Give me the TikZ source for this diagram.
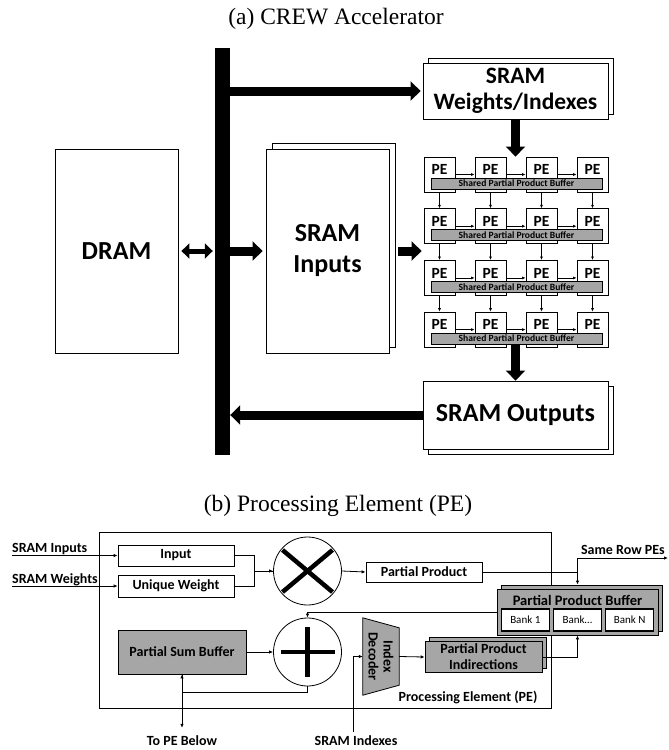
\documentclass[tikz,border=0pt]{standalone}
\usepackage{fontspec}
\setmainfont{Liberation Serif}
\newfontfamily\calibri{Carlito}
\usepackage{xcolor}
\usetikzlibrary{positioning, arrows.meta, shadows}

\definecolor{bufgray}{RGB}{166,166,166}

\tikzset{
  box/.style={draw, line width=0.8pt, fill=white, inner sep=0pt},
  graybox/.style={box, fill=bufgray},
  stack/.style n args={3}{general shadow={draw, line width=0.8pt, fill=#1, shadow xshift=#2, shadow yshift=#3}},
  ttl/.style={font=\fontsize{23.5}{26}\selectfont},
  big/.style={font=\calibri\bfseries\fontsize{26}{27}\selectfont},
  lbl/.style={font=\calibri\bfseries\fontsize{14}{16}\selectfont, inner sep=0pt},
  pelbl/.style={font=\calibri\bfseries\fontsize{15.5}{16}\selectfont, inner sep=0pt},
  sbuf/.style={graybox, minimum width=171pt, minimum height=11pt, font=\calibri\bfseries\fontsize{9.6}{10}\selectfont},
  bank/.style={draw, line width=1.2pt, fill=white, minimum width=48pt, minimum height=22pt, inner sep=0pt, font=\calibri\fontsize{11}{12}\selectfont},
  bigarrow/.style={line width=9pt, -{Triangle[length=10pt, width=19pt]}},
  dblarrow/.style={line width=5pt, {Triangle[length=8pt, width=15pt]}-{Triangle[length=8pt, width=15pt]}},
  wire/.style={line width=0.8pt, -{Latex[length=4pt, width=3.5pt]}},
  sign/.style={line width=4.5pt}
}

\begin{document}
\begin{tikzpicture}[x=1pt, y=-1pt]
\useasboundingbox (0,0) rectangle (669,750);

% Titles
\node[ttl] (ttla) at (336,19) {(a) CREW Accelerator};
\node[ttl] (ttlb) at (338,506) {(b) Processing Element (PE)};

% Memories and bus
\node[fill=black, minimum width=15pt, minimum height=407pt, inner sep=0pt] (bus) at (222.5,251.5) {};
\node[box, big, minimum width=123pt, minimum height=204pt] (dram) at (116.5,251) {DRAM};
\node[box, big, stack={white}{6pt}{6pt}, minimum width=123pt, minimum height=204pt, align=center, font=\calibri\bfseries\fontsize{26}{31}\selectfont] (inp) at (327.5,251) {SRAM\\Inputs};
\node[box, big, stack={white}{5pt}{5pt}, minimum width=185pt, minimum height=56pt, align=center, font=\calibri\bfseries\fontsize{23.5}{26}\selectfont] (wts) at (515.5,91) {SRAM\\Weights/Indexes};
\node[box, big, stack={white}{5pt}{-5pt}, minimum width=185pt, minimum height=68pt] (outs) at (515.5,415) {SRAM Outputs};

% PE array
\foreach \row in {1,...,4}{
  \foreach \col in {1,...,4}{
    \node[box, minimum width=31pt, minimum height=35pt] (pe\row\col) at ({439.5+51*(\col-1)},{174.5+51.7*(\row-1)}) {};
    \node[pelbl, below=8pt of pe\row\col.north] (pl\row\col) {PE};
  }
  \foreach \col [evaluate=\col as \nxt using int(\col+1)] in {1,2,3}
    \draw[wire, -{Latex[length=3.5pt, width=3pt]}] (pe\row\col.east) -- (pe\row\nxt.west);
  \node[sbuf] (buf\row) at (516.5,{183.5+51.7*(\row-1)}) {Shared Partial Product Buffer};
}
\foreach \row [evaluate=\row as \nxt using int(\row+1)] in {1,2,3}
  \foreach \col in {1,...,4}
    \draw[wire, -{Latex[length=3.5pt, width=3pt]}] (pe\row\col.south) -- (pe\nxt\col.north);

% Data movement
\draw[dblarrow, shorten <=3pt, shorten >=2pt] (dram.east) -- (dram.east -| bus.west);
\draw[bigarrow, shorten >=2pt] (bus.east |- wts.west) -- (wts.west);
\draw[bigarrow, shorten >=3pt] (bus.east |- inp.west) -- (inp.west);
\draw[bigarrow, shorten <=9pt, shorten >=2pt] (inp.east) -- (inp.east -| pe11.west);
\draw[bigarrow] (wts.south) -- (wts.south |- pe11.north);
\draw[bigarrow] (buf4.south -| outs.north) -- (outs.north);
\draw[bigarrow] (outs.west) -- (outs.west -| bus.east);

% Processing element
\node[draw, line width=0.8pt, minimum width=452pt, minimum height=176pt] (pebox) at (325,620) {};
\node[lbl] (pename) at (468,697) {Processing Element (PE)};

\node[box, lbl, minimum width=116pt, minimum height=21pt] (inbox) at (176,555.5) {Input};
\node[box, lbl, minimum width=116pt, minimum height=22pt] (uw) at (176,586) {Unique Weight};
\node[lbl, anchor=base west] (lblin) at (12,552.5) {SRAM Inputs};
\node[lbl, anchor=base west] (lblw) at (12,583.5) {SRAM Weights};
\draw[wire] (lblin.south west |- inbox.west) -- (inbox.west);
\draw[wire] (lblw.south west |- uw.west) -- (uw.west);

\node[draw, circle, line width=0.8pt, minimum size=68pt, inner sep=0pt] (mul) at (307.5,571) {};
\draw[sign] ([shift={(-25,-21)}]mul.center) -- ([shift={(25,21)}]mul.center);
\draw[sign] ([shift={(-25,21)}]mul.center) -- ([shift={(25,-21)}]mul.center);
\draw[wire] (inbox.east) -- ++(20,0) |- (mul.west);
\draw[line width=0.8pt] (uw.east) -- ++(20,0) |- (mul.west);

\node[box, lbl, minimum width=116pt, minimum height=20pt] (pp) at (424,572) {Partial Product};
\draw[wire] (mul.east) -- (pp.west);

\node[draw, circle, line width=0.8pt, minimum size=68pt, inner sep=0pt] (add) at (307.5,652) {};
\draw[sign] ([shift={(-27,0)}]add.center) -- ([shift={(27,0)}]add.center);
\draw[sign] ([shift={(0,-25)}]add.center) -- ([shift={(0,25)}]add.center);

\node[graybox, lbl, minimum width=128pt, minimum height=44pt] (psb) at (182,652) {Partial Sum Buffer};
\draw[wire] (psb.east) -- (add.west);

\node[lbl] (belowlbl) at (182,741) {To PE Below};
\draw[line width=0.8pt] (add.south) -- ++(0,6) -| (psb.south);
\draw[wire, {Latex[length=4pt, width=3.5pt]}-{Latex[length=4pt, width=3.5pt]}, shorten >=8pt] (psb.south) -- (belowlbl.north);

% Index decoder and indirections
\node[minimum width=36pt, minimum height=77pt, inner sep=0pt] (dec) at (381,656.5) {};
\filldraw[fill=bufgray, line width=0.8pt] (dec.north west) -- ([yshift=-10pt]dec.north east) -- ([yshift=10pt]dec.south east) -- (dec.south west) -- cycle;
\node[lbl, rotate=-90, align=center, font=\calibri\bfseries\fontsize{14}{15}\selectfont] (dect) at (dec.center) {Index\\Decoder};

\node[lbl] (idxlbl) at (356,741) {SRAM Indexes};
\draw[wire, shorten <=4pt] ([xshift=-3pt]idxlbl.north) |- (dec.west);

\node[graybox, lbl, stack={bufgray}{4pt}{4pt}, minimum width=117pt, minimum height=31pt, align=center, font=\calibri\bfseries\fontsize{14}{16}\selectfont] (ppi) at (483.5,657) {Partial Product\\Indirections};
\draw[wire] (dec.east) -- (ppi.west);

% Partial product buffer
\node[graybox, stack={bufgray}{4pt}{4pt}, minimum width=161pt, minimum height=46pt] (ppb) at (577.5,612) {};
\node[lbl, font=\calibri\bfseries\fontsize{14.5}{16}\selectfont, below=6pt of ppb.north] (ppbt) {Partial Product Buffer};
\node[bank] (bank2) at (577.5,620) {Bank…};
\node[bank, left=3pt of bank2] (bank1) {Bank 1};
\node[bank, right=3pt of bank2] (bankn) {Bank N};

\draw[wire, shorten >=4pt] (pp.east) -| (ppb.north);
\draw[wire] (pp.east -| ppb.north) |- (668,558);
\node[lbl, anchor=base east] (rowlbl) at (665,554.5) {Same Row PEs};
\draw[wire] (ppi.east) -| (ppb.south);
\draw[wire] (ppb.west) -| (add.north);

\end{tikzpicture}
\end{document}
